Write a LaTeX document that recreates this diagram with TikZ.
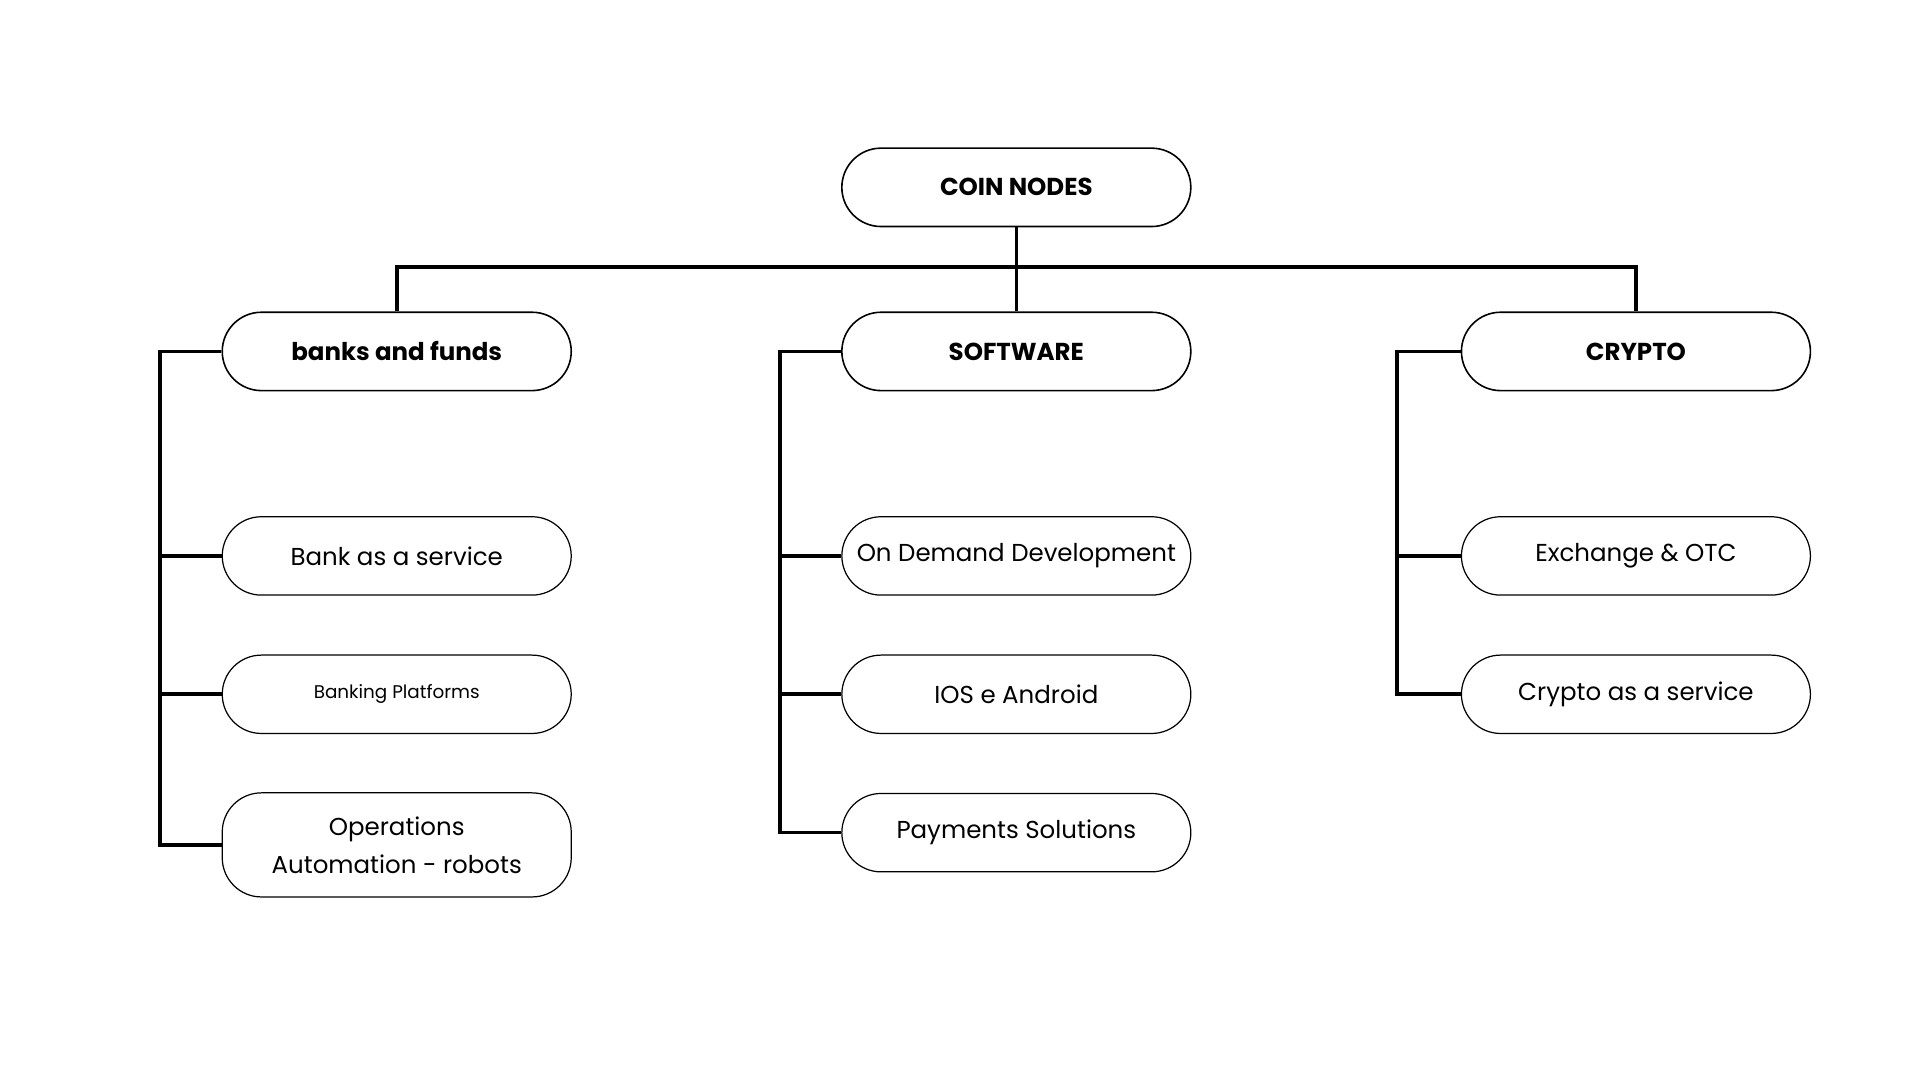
\documentclass[tikz,border=0pt]{standalone}
\usepackage{fontspec}
\setmainfont{Poppins}
\begin{document}
\begin{tikzpicture}[x=1pt,y=-1pt,
  box/.style={draw, line width=1pt, rounded corners=32pt, minimum width=285pt, minimum height=64pt, align=center, font=\fontsize{20}{31}\selectfont, inner sep=2pt},
  head/.style={box, line width=1.3pt, font=\fontsize{20}{24}\selectfont\bfseries},
  conn/.style={line width=3pt}]
\useasboundingbox (0,0) rectangle (1568,882);
\node[head] (coin) at (830,153) {COIN NODES};
\node[head] (bf) at (324,287) {banks and funds};
\node[head] (sw) at (830,287) {SOFTWARE};
\node[head] (cr) at (1336,287) {CRYPTO};
\node[box] (bas) at (324,454) {Bank as a service};
\node[box, font=\fontsize{15}{18}\selectfont] (bp) at (324,567) {Banking Platforms};
\node[box, minimum height=85pt] (ops) at (324,690) {Operations\\Automation - robots};
\node[box] (odd) at (830,454) {On Demand Development};
\node[box] (ios) at (830,567) {IOS e Android};
\node[box] (pay) at (830,680) {Payments Solutions};
\node[box] (ex) at (1336,454) {Exchange \& OTC};
\node[box] (cas) at (1336,567) {Crypto as a service};
\coordinate (bar) at (830,218);
\draw[conn] (coin.south) -- (bar);
\draw[conn] (bf.north) |- (bar) -| (cr.north);
\draw[conn] (bar) -- (sw.north);
\draw[conn] (bf.west) -- ++(-50,0) coordinate (l1) |- (ops.west);
\draw[conn] (l1 |- bas.west) -- (bas.west);
\draw[conn] (l1 |- bp.west) -- (bp.west);
\draw[conn] (sw.west) -- ++(-50,0) coordinate (l2) |- (pay.west);
\draw[conn] (l2 |- odd.west) -- (odd.west);
\draw[conn] (l2 |- ios.west) -- (ios.west);
\draw[conn] (cr.west) -- ++(-52,0) coordinate (l3) |- (cas.west);
\draw[conn] (l3 |- ex.west) -- (ex.west);
\end{tikzpicture}
\end{document}
